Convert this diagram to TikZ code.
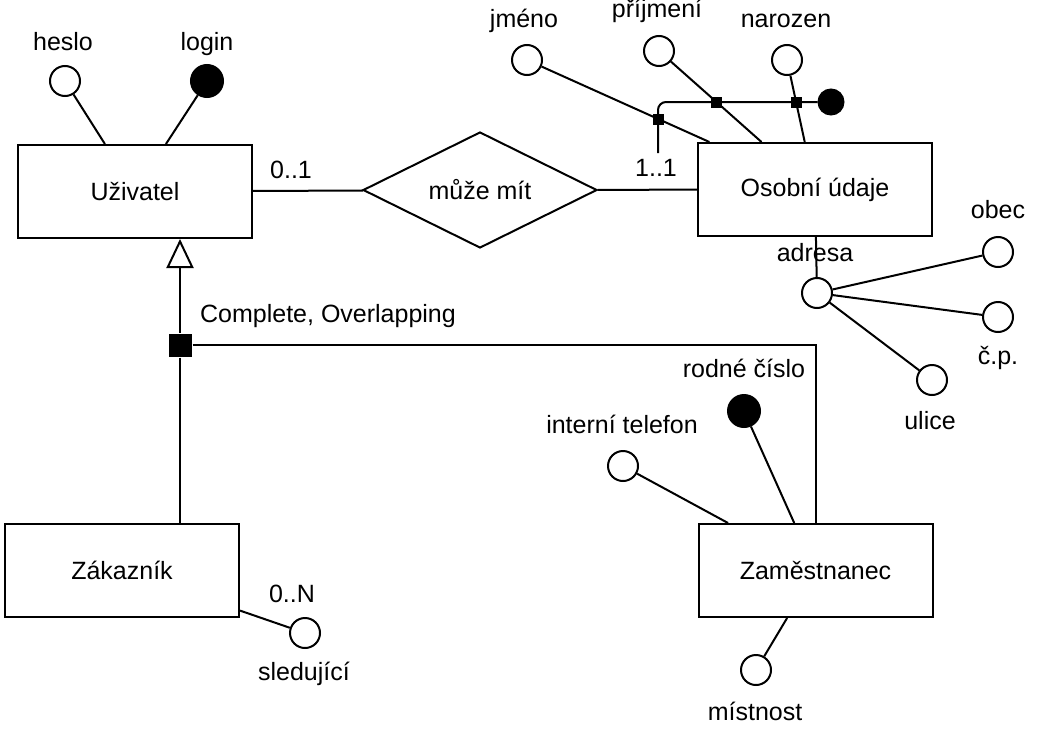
\documentclass[tikz,border=0pt]{standalone}
\usepackage{fontspec}
\setmainfont{Liberation Sans}
\usetikzlibrary{shapes.geometric, arrows.meta}
\begin{document}
\begin{tikzpicture}[
        x=0.5pt, y=-0.5pt,
        font=\fontsize{12.5}{15}\selectfont,
        line width=1pt,
        entity/.style={rectangle, draw, minimum width=117pt, minimum height=46.5pt},
        relation/.style={diamond, draw, aspect=2, minimum width=117pt, minimum height=58pt, inner sep=0pt},
        attribute/.style={circle, draw, fill=white, minimum size=15pt, inner sep=0pt},
        keyattr/.style={attribute, fill=black, minimum size=16pt},
        joint/.style={rectangle, fill=black, minimum size=5.5pt, inner sep=0pt},
        attrlabel/.style={anchor=base, inner sep=0pt},
        isa/.style={-{Triangle[open, width=13.5pt, length=14.5pt]}}
    ]
        \useasboundingbox (0,0) rectangle (1038,728);

        % Uzivatel: heslo, login (key)
        \node[entity] (uzivatel) at (135,191.5) {Uživatel};
        \node[attribute] (uzivatel_heslo) at (65,81) {};
        \node[keyattr] (uzivatel_login) at (207,81) {};
        \draw (uzivatel_heslo) -- (uzivatel);
        \draw (uzivatel_login) -- (uzivatel);
        \node[attrlabel] (lbl_heslo) at (63,50) {heslo};
        \node[attrlabel] (lbl_login) at (207,50) {login};

        % Relationship: Uzivatel 0..1 -- 1..1 Osobni udaje
        \node[relation] (muze_mit) at (480,190) {může mít};
        \node[entity] (osobni) at (815,189.5) {Osobní údaje};
        \draw (uzivatel) -- (muze_mit);
        \draw (muze_mit) -- (osobni);
        \node[attrlabel] (lbl_01) at (291,178) {0..1};
        \node[attrlabel] (lbl_11) at (656,176) {1..1};

        % Osobni udaje: composite key jmeno + prijmeni + narozen
        \node[attribute] (osobni_jmeno) at (527,60) {};
        \node[attribute] (osobni_prijmeni) at (659,51) {};
        \node[attribute] (osobni_narozen) at (787,60) {};
        \node[keyattr, minimum size=12.5pt] (osobni_klic) at (831,102) {};
        \node[joint] (klic_jmeno) at (658,119) {};
        \node[joint] (klic_prijmeni) at (716,102) {};
        \node[joint] (klic_narozen) at (796,102) {};
        \coordinate (klic_konec) at (658,153);
        \draw (osobni_jmeno) -- (osobni);
        \draw (osobni_prijmeni) -- (osobni);
        \draw (osobni_narozen) -- (osobni);
        \draw[rounded corners=4pt] (osobni_klic) -- (klic_jmeno |- osobni_klic) -- (klic_konec);
        \node[attrlabel] (lbl_jmeno) at (524,27) {jméno};
        \node[attrlabel] (lbl_prijmeni) at (657,18) {příjmení};
        \node[attrlabel] (lbl_narozen) at (786,27) {narozen};

        % Osobni udaje: adresa (obec, c.p., ulice)
        \node[attribute] (osobni_adresa) at (817,293) {};
        \node[attribute] (adresa_obec) at (998,252) {};
        \node[attribute] (adresa_cp) at (998,317) {};
        \node[attribute] (adresa_ulice) at (932,380) {};
        \draw (osobni) -- (osobni_adresa);
        \draw (osobni_adresa) -- (adresa_obec);
        \draw (osobni_adresa) -- (adresa_cp);
        \draw (osobni_adresa) -- (adresa_ulice);
        \node[attrlabel] (lbl_adresa) at (815,261) {adresa};
        \node[attrlabel] (lbl_obec) at (998,218) {obec};
        \node[attrlabel] (lbl_cp) at (998,364) {č.p.};
        \node[attrlabel] (lbl_ulice) at (930,429) {ulice};

        % Generalization: Zakaznik, Zamestnanec
        \node[joint, minimum size=11.5pt] (gen) at (180,345) {};
        \node[entity] (zakaznik) at (122,570) {Zákazník};
        \node[entity] (zamestnanec) at (815.5,570.5) {Zaměstnanec};
        \draw[isa] (gen) -- (gen |- uzivatel.south);
        \draw (gen) -- (gen |- zakaznik.north);
        \draw (gen) -| (zamestnanec);
        \node[attrlabel] (lbl_gen) at (328,322) {Complete, Overlapping};

        % Zakaznik: sledujici 0..N
        \node[attribute] (zakaznik_sledujici) at (305,633) {};
        \draw (zakaznik) -- (zakaznik_sledujici);
        \node[attrlabel] (lbl_0n) at (292,602) {0..N};
        \node[attrlabel] (lbl_sledujici) at (304,680) {sledující};

        % Zamestnanec: rodne cislo (key), interni telefon, mistnost
        \node[keyattr] (zamestnanec_rc) at (744,411) {};
        \node[attribute] (zamestnanec_tel) at (623,466) {};
        \node[attribute] (zamestnanec_mistnost) at (756,670) {};
        \draw (zamestnanec_rc) -- (zamestnanec);
        \draw (zamestnanec_tel) -- (zamestnanec);
        \draw (zamestnanec) -- (zamestnanec_mistnost);
        \node[attrlabel] (lbl_rc) at (744,377) {rodné číslo};
        \node[attrlabel] (lbl_tel) at (622,433) {interní telefon};
        \node[attrlabel] (lbl_mistnost) at (755,720) {místnost};

    \end{tikzpicture}
\end{document}
